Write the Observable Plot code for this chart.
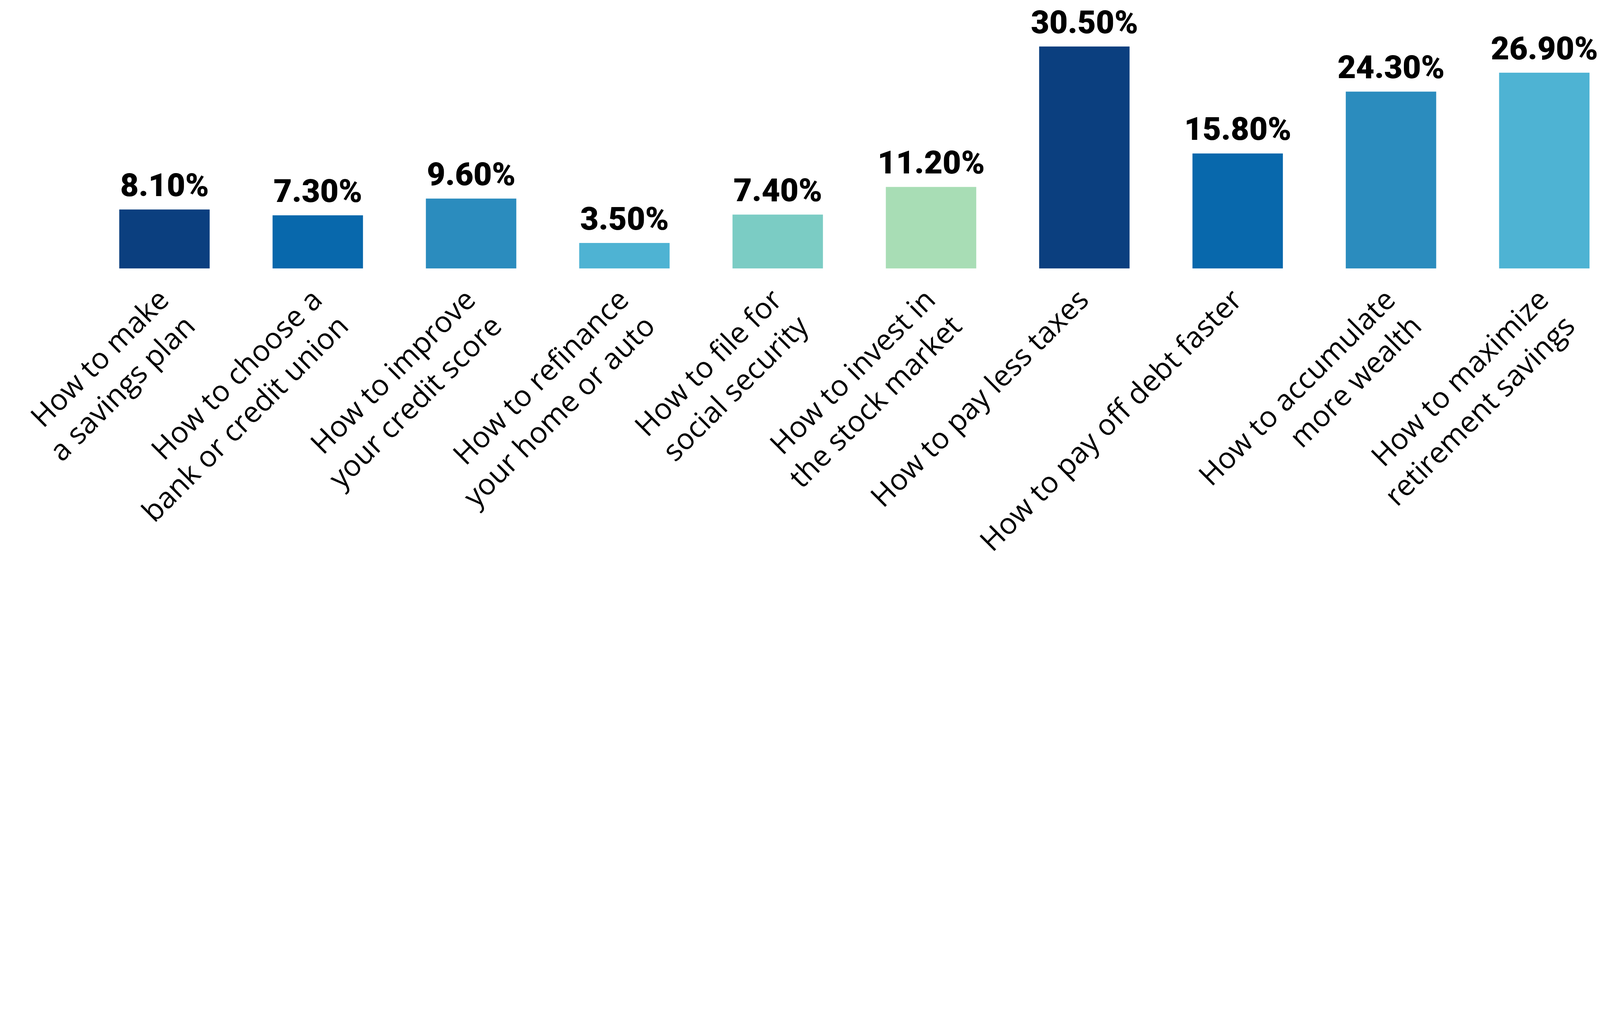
<!DOCTYPE html>
<html>
<head>
<meta charset="utf-8">
<script src="https://cdn.jsdelivr.net/npm/d3@7"></script>
<script src="https://cdn.jsdelivr.net/npm/@observablehq/plot@0.6"></script>
<style>
  html, body { margin: 0; padding: 0; background: #ffffff; overflow: hidden; }
  #chart svg { display: block; }
</style>
</head>
<body>
<div id="chart"></div>
<script>
// Categories (x), values (%), and bar colours
const categories = [
  "How to make\na savings plan",
  "How to choose a\nbank or credit union",
  "How to improve\nyour credit score",
  "How to refinance\nyour home or auto",
  "How to file for\nsocial security",
  "How to invest in\nthe stock market",
  "How to pay less taxes",
  "How to pay off debt faster",
  "How to accumulate\nmore wealth",
  "How to maximize\nretirement savings"
];
const values = [8.1, 7.3, 9.6, 3.5, 7.4, 11.2, 30.5, 15.8, 24.3, 26.9];
const barColors = [
  "#0b3f7f", "#0868ac", "#2b8cbe", "#4eb3d3", "#7bccc4",
  "#a8ddb5", "#0b3f7f", "#0868ac", "#2b8cbe", "#4eb3d3"
];

const data = categories.map((c, i) => ({category: c, value: values[i]}));
const fmt = d3.format(".2f");

const W = 7326, H = 2588;

const chart = Plot.plot({
  width: W,
  height: H,
  marginLeft: 545,
  marginRight: 46,
  marginTop: 63,
  marginBottom: 1359,
  style: {background: "#ffffff"},
  x: {domain: categories, paddingInner: 0.41, paddingOuter: 0, axis: null},
  y: {domain: [0, 35], axis: null},
  color: {domain: categories, range: barColors},
  marks: [
    Plot.barY(data, {x: "category", y: "value", fill: "category"}),
    Plot.text(data, {
      x: "category", y: "value",
      text: d => fmt(d.value) + "%",
      dy: -62, lineAnchor: "bottom",
      fontSize: 146, fontWeight: 900, fontFamily: "Roboto",
      fill: "#000000"
    }),
    Plot.text(data, {
      x: "category", frameAnchor: "bottom",
      text: "category",
      dy: 66, dx: -58,
      rotate: -45, textAnchor: "end", lineAnchor: "top",
      lineHeight: 1.27,
      fontSize: 134, fontFamily: "Open Sans", fill: "#000000"
    })
  ]
});
document.getElementById("chart").appendChild(chart);
</script>
</body>
</html>
